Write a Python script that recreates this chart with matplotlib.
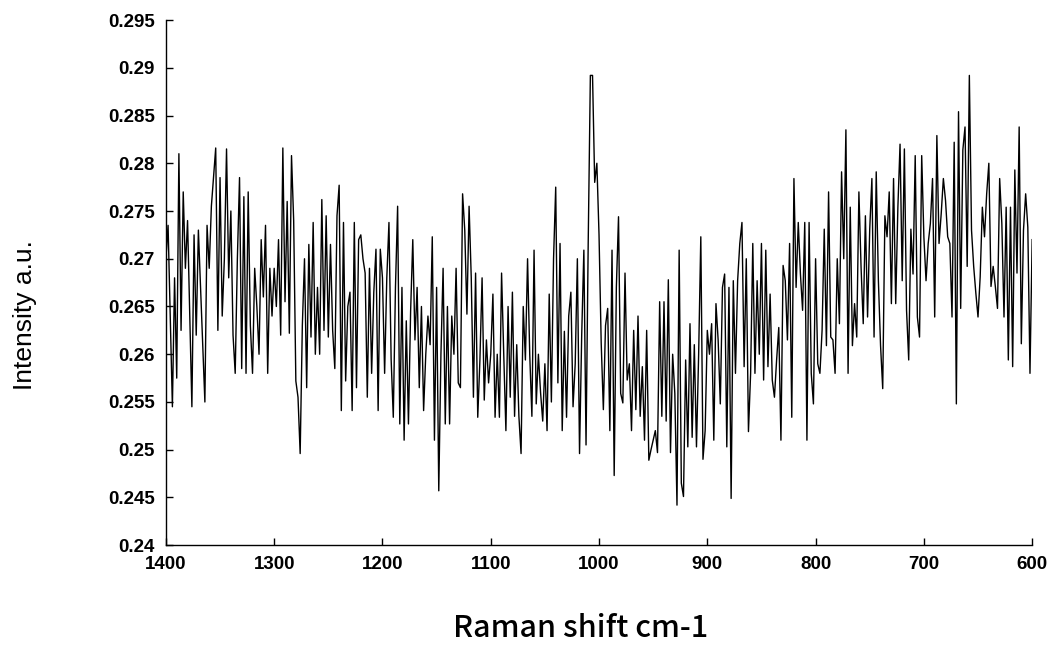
import numpy as np
import matplotlib
matplotlib.use('Agg')
import matplotlib.pyplot as plt

# intensity x 1e4, every 2 cm-1, from 1400 down to 600
seg_1400_1300 = [2700, 2735, 2640, 2545, 2680, 2575, 2810, 2625, 2770, 2690,
                 2740, 2640, 2545, 2725, 2620, 2730, 2670, 2610, 2550, 2735,
                 2690, 2755, 2785, 2816, 2625, 2785, 2640, 2700, 2815, 2680,
                 2750, 2620, 2580, 2700, 2785, 2585, 2765, 2580, 2770, 2630,
                 2580, 2690, 2650, 2600, 2720, 2660, 2735, 2580, 2690, 2640,
                 2690]
seg_1298_1200 = [2650, 2720, 2620, 2816, 2655, 2760, 2622, 2808, 2740, 2572,
                 2555, 2496, 2630, 2700, 2565, 2715, 2618, 2738, 2600, 2670,
                 2600, 2762, 2625, 2745, 2618, 2715, 2625, 2585, 2745, 2777,
                 2541, 2738, 2572, 2650, 2665, 2541, 2738, 2565, 2720, 2725,
                 2700, 2685, 2555, 2690, 2580, 2665, 2710, 2541, 2710, 2680]
seg_1198_1100 = [2580, 2680, 2738, 2595, 2534, 2670, 2755, 2527, 2670, 2510,
                 2635, 2527, 2645, 2720, 2615, 2670, 2565, 2650, 2541, 2600,
                 2640, 2610, 2723, 2510, 2670, 2457, 2600, 2690, 2527, 2650,
                 2527, 2640, 2600, 2690, 2570, 2565, 2768, 2730, 2642, 2755,
                 2680, 2555, 2685, 2534, 2594, 2680, 2552, 2615, 2570, 2600]
seg_1098_1000 = [2663, 2534, 2600, 2534, 2685, 2600, 2520, 2650, 2555, 2665,
                 2535, 2610, 2535, 2496, 2650, 2594, 2700, 2600, 2535, 2709,
                 2548, 2600, 2560, 2530, 2590, 2520, 2663, 2550, 2700, 2775,
                 2570, 2716, 2520, 2624, 2534, 2640, 2665, 2545, 2590, 2700,
                 2496, 2620, 2709, 2505, 2716, 2892, 2892, 2780, 2800, 2725]
seg_998_900 = [2612, 2542, 2630, 2648, 2520, 2709, 2473, 2670, 2744, 2559,
               2549, 2685, 2573, 2590, 2520, 2625, 2542, 2640, 2535, 2587,
               2510, 2625, 2489, 2500, 2510, 2520, 2497, 2655, 2535, 2655,
               2530, 2678, 2497, 2600, 2559, 2442, 2709, 2465, 2451, 2594,
               2503, 2632, 2513, 2610, 2503, 2600, 2723, 2490, 2520, 2625]
seg_898_800 = [2600, 2632, 2510, 2653, 2615, 2548, 2670, 2684, 2503, 2670,
               2449, 2677, 2580, 2677, 2716, 2738, 2587, 2700, 2519, 2580,
               2716, 2580, 2677, 2600, 2716, 2573, 2709, 2587, 2663, 2573,
               2555, 2594, 2628, 2510, 2693, 2677, 2615, 2716, 2534, 2784,
               2670, 2738, 2684, 2646, 2738, 2510, 2738, 2580, 2548, 2700]
seg_798_700 = [2590, 2580, 2625, 2731, 2609, 2770, 2618, 2615, 2580, 2700,
               2632, 2791, 2700, 2835, 2580, 2754, 2609, 2653, 2618, 2770,
               2691, 2632, 2745, 2639, 2731, 2784, 2618, 2791, 2677, 2609,
               2564, 2745, 2723, 2770, 2653, 2784, 2653, 2754, 2820, 2677,
               2815, 2646, 2594, 2731, 2684, 2808, 2639, 2618, 2808, 2723]
seg_698_600 = [2677, 2716, 2737, 2784, 2639, 2829, 2716, 2747, 2784, 2761,
               2723, 2716, 2639, 2822, 2548, 2854, 2648, 2814, 2838, 2692,
               2892, 2730, 2692, 2664, 2639, 2681, 2754, 2723, 2768, 2800,
               2671, 2692, 2671, 2648, 2784, 2737, 2639, 2754, 2594, 2754,
               2587, 2793, 2685, 2838, 2611, 2730, 2768, 2733, 2580, 2720]

x_ticks = [1400, 1300, 1200, 1100, 1000, 900, 800, 700, 600]
y_ticks = [0.24, 0.245, 0.25, 0.255, 0.26, 0.265, 0.27, 0.275, 0.28, 0.285, 0.29, 0.295]
y_labels = ['0.24', '0.245', '0.25', '0.255', '0.26', '0.265', '0.27', '0.275',
            '0.28', '0.285', '0.29', '0.295']

intensity = np.array(seg_1400_1300 + seg_1298_1200 + seg_1198_1100 + seg_1098_1000
                     + seg_998_900 + seg_898_800 + seg_798_700 + seg_698_600) / 1e4
shift = np.linspace(1400, 600, len(intensity))

fig = plt.figure(figsize=(10.5, 6.46), dpi=100)
ax = fig.add_axes([0.158, 0.156, 0.825, 0.813])
ax.plot(shift, intensity, color='black', linewidth=1.0)

ax.set_xlim(1400, 600)
ax.set_ylim(0.24, 0.295)
ax.set_xticks(x_ticks)
ax.set_xticklabels([str(t) for t in x_ticks])
ax.set_yticks(y_ticks)
ax.set_yticklabels(y_labels)
for s in ['top', 'right']:
    ax.spines[s].set_visible(False)
for s in ['left', 'bottom']:
    ax.spines[s].set_linewidth(1.0)
ax.tick_params(direction='in', length=5, width=1, pad=8)
for lab in ax.get_xticklabels() + ax.get_yticklabels():
    lab.set_fontfamily('Liberation Sans')
    lab.set_fontweight('bold')
    lab.set_fontsize(13.5)

fig.text(0.024, 0.512, 'Intensity a.u.', rotation=90, ha='center', va='center',
         fontsize=19, family='Liberation Sans')
fig.text(0.553, 0.027, 'Raman shift cm-1', ha='center', va='center',
         fontsize=22, fontweight='medium', family=['Noto Sans CJK JP', 'DejaVu Sans'])

fig.savefig('out.png', dpi=100)
